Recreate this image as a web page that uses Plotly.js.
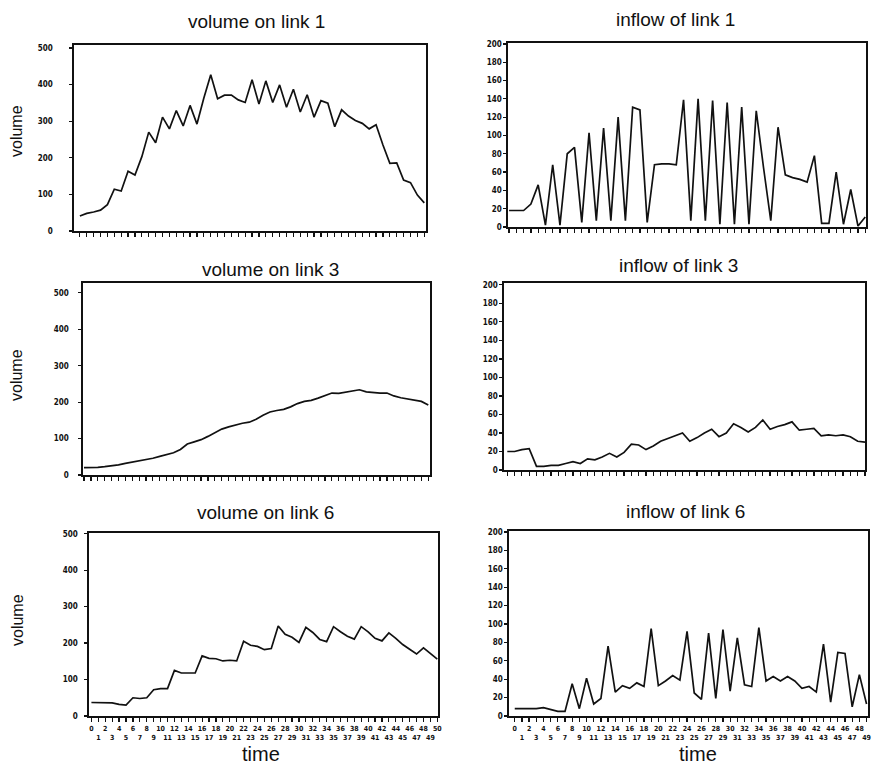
<!DOCTYPE html>
<html><head><meta charset="utf-8">
<script src="https://cdn.plot.ly/plotly-3.0.1.min.js"></script>
<style>html,body{margin:0;padding:0;background:#fff}#chart{width:872px;height:764px}</style>
</head><body><div id="chart"></div>
<script>
// ---- data ----
const time51 = [0,1,2,3,4,5,6,7,8,9,10,11,12,13,14,15,16,17,18,19,20,21,22,23,24,25,26,27,28,29,30,31,32,33,34,35,36,37,38,39,40,41,42,43,44,45,46,47,48,49,50];
const time50 = [0,1,2,3,4,5,6,7,8,9,10,11,12,13,14,15,16,17,18,19,20,21,22,23,24,25,26,27,28,29,30,31,32,33,34,35,36,37,38,39,40,41,42,43,44,45,46,47,48,49];

const volumeLink1 = [41,48,52,57,72,114,109,163,153,203,270,241,311,279,329,287,343,292,363,427,361,371,371,358,351,413,347,410,351,399,338,387,325,372,311,356,349,285,331,314,302,294,279,290,235,185,186,139,132,98,77];
const inflowLink1 = [18,18,18,25,46,2,68,2,80,87,5,103,7,108,7,120,7,131,128,5,68,69,69,68,139,7,140,7,138,3,136,3,131,3,127,65,7,109,57,54,52,49,78,4,4,60,3,41,1,11];
const volumeLink3 = [20,20,21,23,25,28,32,35,38,42,46,51,56,61,70,85,91,97,106,116,126,132,138,142,145,153,164,173,177,180,187,196,202,205,211,219,225,224,227,231,234,228,226,225,225,217,212,209,206,202,192];
const inflowLink3 = [20,20,22,23,4,4,5,5,7,9,7,12,11,14,18,14,19,28,27,22,26,31,34,37,40,31,35,40,44,36,40,50,46,41,46,54,44,47,49,52,43,44,45,37,38,37,38,36,31,30];
const volumeLink6 = [37,37,37,36,32,30,50,48,50,72,75,75,125,118,118,118,165,158,157,151,153,151,205,194,191,182,185,247,224,216,202,243,229,210,204,245,231,219,211,245,231,213,206,228,213,196,183,170,187,172,156];
const inflowLink6 = [8,8,8,8,9,7,5,5,35,8,41,13,19,76,26,33,30,36,32,95,33,38,44,39,92,25,18,90,19,94,27,85,34,32,96,38,43,38,43,38,30,32,26,78,15,69,68,10,45,13];

const volumeTicks = [0,100,200,300,400,500];
const inflowTicks = [0,20,40,60,80,100,120,140,160,180,200];
const panelTitles = ['volume on link 1','inflow of link 1','volume on link 3','inflow of link 3','volume on link 6','inflow of link 6'];
const yAxisTitle = 'volume';
const xAxisTitle = 'time';

// ---- layout ----
const W = 872, H = 764;
const tickFont = {family: "'Liberation Sans Narrow','DejaVu Sans Condensed','Liberation Sans',sans-serif", size: 8, weight: 'bold', color: '#111'};
const xTickFont = {family: "'Liberation Sans Narrow','DejaVu Sans Condensed','Liberation Sans',sans-serif", size: 7, weight: 'bold', color: '#111'};
const panels = [
  {x: time51, y: volumeLink1, px: [74,426], py: [45,231], xr: [-0.85,50.25], yr: [0,508], yt: volumeTicks, so: 15, lab: false, title: [256,28]},
  {x: time50, y: inflowLink1, px: [508,866], py: [43,227], xr: [-0.15,49.1], yr: [0,201], yt: inflowTicks, so: 0, lab: false, title: [675,27]},
  {x: time51, y: volumeLink3, px: [83,430], py: [283,475], xr: [-0.15,50.25], yr: [0,527], yt: volumeTicks, so: 8, lab: false, title: [270,276]},
  {x: time50, y: inflowLink3, px: [504,865], py: [283,470], xr: [-0.45,49.0], yr: [0,202], yt: inflowTicks, so: 0, lab: false, title: [678,272]},
  {x: time51, y: volumeLink6, px: [89,438], py: [533,716], xr: [-0.35,50.1], yr: [0,502], yt: volumeTicks, so: 5, lab: true, title: [265,519]},
  {x: time50, y: inflowLink6, px: [509,868], py: [531,716], xr: [-0.8,49.2], yr: [0,201], yt: inflowTicks, so: 0, lab: true, title: [685,518]}
];

const data = [];
const layout = {
  width: W, height: H,
  margin: {l:0, r:0, t:0, b:0},
  paper_bgcolor: '#fff', plot_bgcolor: '#fff',
  showlegend: false,
  annotations: [],
  font: {family: "'Liberation Sans',Arial,sans-serif", color: '#111'}
};

panels.forEach((p, i) => {
  const n = i + 1;
  const xa = 'x' + (n === 1 ? '' : n), ya = 'y' + (n === 1 ? '' : n);
  data.push({x: p.x, y: p.y, xaxis: xa, yaxis: ya, type: 'scatter', mode: 'lines',
             line: {color: '#111', width: 1.7}, hoverinfo: 'skip'});
  const xkey = 'xaxis' + (n === 1 ? '' : n), ykey = 'yaxis' + (n === 1 ? '' : n);
  layout[xkey] = {
    domain: [p.px[0]/W, p.px[1]/W], anchor: ya, range: p.xr,
    showgrid: false, zeroline: false, showline: true, mirror: true,
    linecolor: '#111', linewidth: 1.6,
    ticks: 'outside', ticklen: 4, tickwidth: 1.2, tickcolor: '#111',
    tickmode: 'array', tickvals: p.x,
    ticktext: p.x.map(v => (v % 2 === 0 ? String(v) : ' <br>' + v)),
    showticklabels: p.lab, tickfont: xTickFont, tickangle: 0, ticklabelstandoff: 1
  };
  layout[ykey] = {
    domain: [1 - p.py[1]/H, 1 - p.py[0]/H], anchor: xa, range: p.yr,
    showgrid: false, zeroline: false, showline: true, mirror: true,
    linecolor: '#111', linewidth: 1.6,
    ticks: 'outside', ticklen: 3, tickwidth: 1.2, tickcolor: '#111',
    tickmode: 'array', tickvals: p.yt, ticktext: p.yt.map(String),
    tickfont: tickFont, ticklabelstandoff: p.so
  };
  layout.annotations.push({
    text: panelTitles[i], xref: 'paper', yref: 'paper',
    x: p.title[0]/W, y: 1 - (p.title[1] - 7)/H, xanchor: 'center', yanchor: 'middle',
    showarrow: false, font: {size: 19, color: '#111', family: "'Liberation Sans',Arial,sans-serif"}
  });
});

// y-axis titles (left column)
[131, 375, 620].forEach(yc => {
  layout.annotations.push({
    text: yAxisTitle, xref: 'paper', yref: 'paper', x: 17/W, y: 1 - yc/H,
    xanchor: 'center', yanchor: 'middle', textangle: -90, showarrow: false,
    font: {size: 16, color: '#111', family: "'Liberation Sans',Arial,sans-serif"}
  });
});
// x-axis titles (bottom row)
[261, 698].forEach(xc => {
  layout.annotations.push({
    text: xAxisTitle, xref: 'paper', yref: 'paper', x: xc/W, y: 1 - 754/H,
    xanchor: 'center', yanchor: 'middle', showarrow: false,
    font: {size: 20, color: '#111', family: "'Liberation Sans',Arial,sans-serif"}
  });
});

Plotly.newPlot('chart', data, layout, {staticPlot: true, displayModeBar: false});
</script>
</body></html>
